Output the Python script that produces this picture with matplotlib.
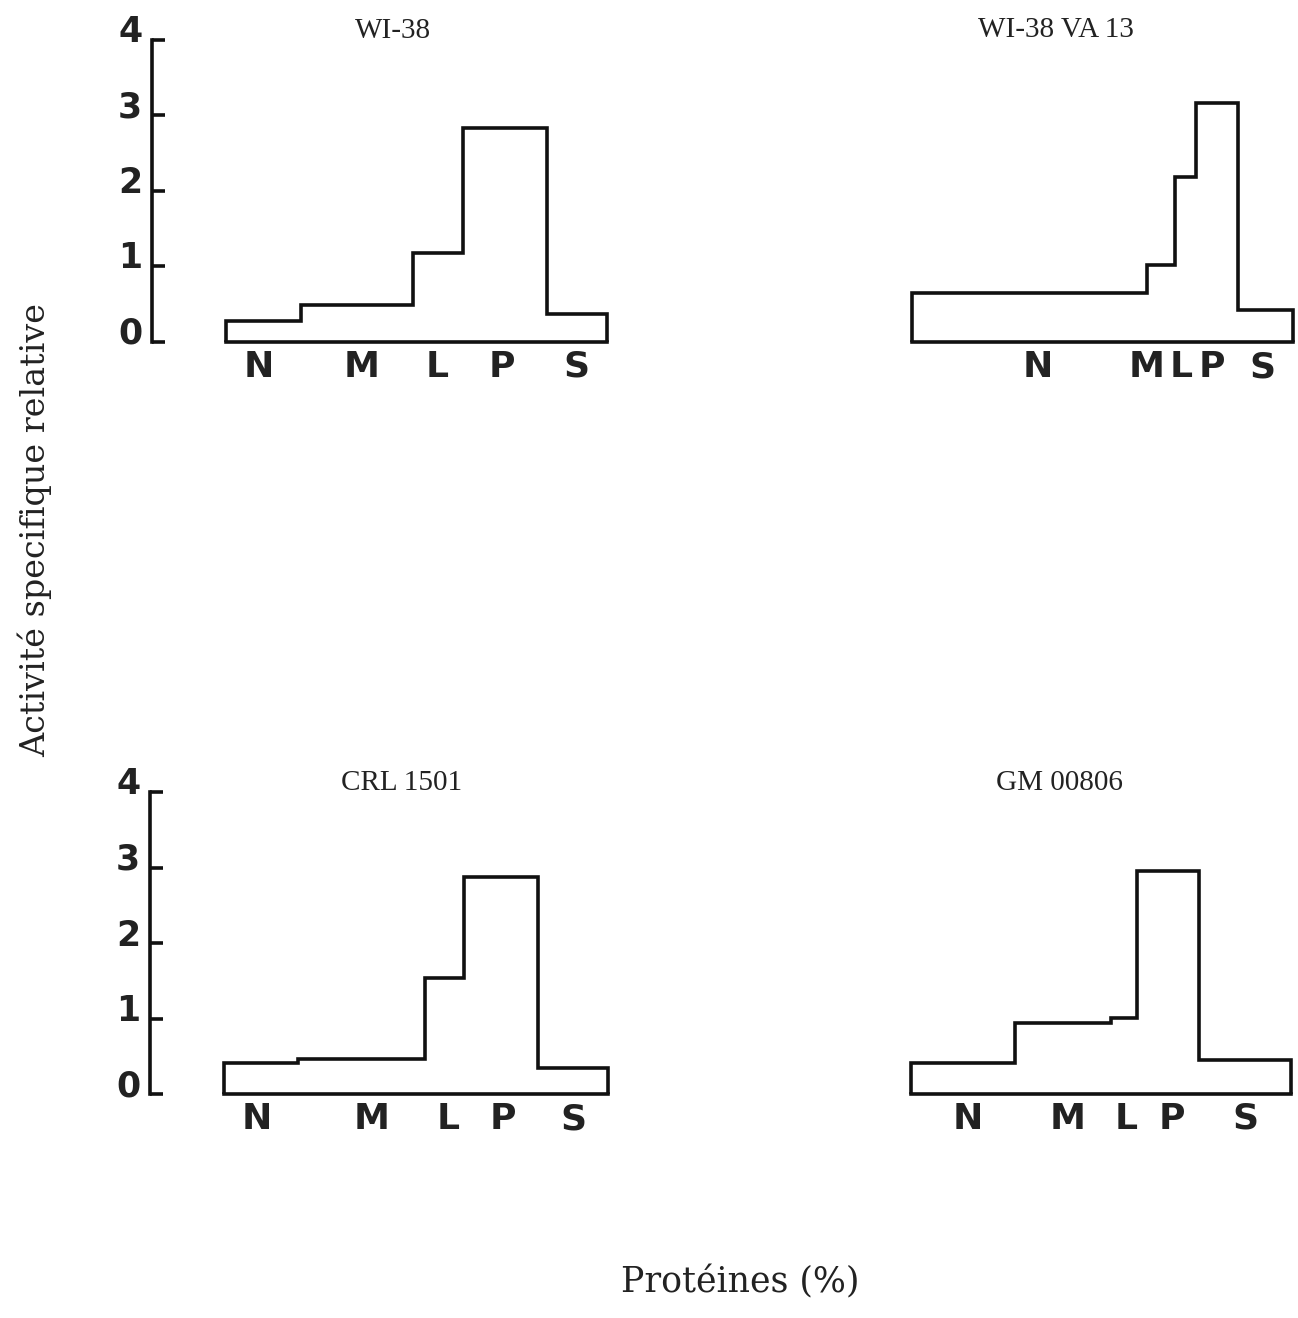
import numpy as np
import matplotlib
matplotlib.use('Agg')
import matplotlib.pyplot as plt
from matplotlib.transforms import ScaledTranslation

fractions = ['N', 'M', 'L', 'P', 'S']
titles = ['WI-38', 'WI-38 VA 13', 'CRL 1501', 'GM 00806']

# bar widths = % of proteins, bar heights = relative specific activity
wi38_prot = [19.7, 29.4, 13.1, 22.0, 15.8]
wi38_act = [0.27, 0.49, 1.17, 2.83, 0.36]
va13_prot = [61.7, 7.3, 5.5, 11.0, 14.5]
va13_act = [0.65, 1.02, 2.19, 3.17, 0.42]
crl_prot = [19.3, 33.1, 10.2, 19.3, 18.1]
crl_act = [0.41, 0.46, 1.54, 2.88, 0.35]
gm_prot = [27.4, 25.3, 6.8, 16.3, 24.2]
gm_act = [0.41, 0.93, 1.00, 2.95, 0.45]

# where the fraction letters sit under each histogram (% of proteins)
wi38_lab = [8.7, 35.7, 55.4, 72.4, 92.1]
va13_lab = [33.1, 61.6, 70.6, 78.6, 92.1]
crl_lab = [8.6, 38.5, 58.3, 72.7, 90.9]
gm_lab = [15.0, 41.3, 56.6, 68.7, 87.9]

W, H = 1298, 1318
UNIT = 75.5  # px per activity unit
LW = 2.6

fig = plt.figure(figsize=(W / 100, H / 100), dpi=100)
fig.patch.set_facecolor('white')


def panel(x0, w, base, prot, act, labpos, title, tx, ty, yaxis):
    left, right = x0 - 74, x0 + w + 14
    ax = fig.add_axes([left / W, (H - base) / H, (right - left) / W, 4 * UNIT / H])
    ax.set_xlim(-74 / w * 100, (w + 14) / w * 100)
    ax.set_ylim(0, 4)
    ax.patch.set_visible(False)

    edges = np.concatenate([[0], np.cumsum(prot)])
    ax.stairs(act, edges, baseline=0, fill=False, color='#111111', lw=LW,
              clip_on=False, joinstyle='miter')
    ax.hlines(0, edges[0], edges[-1], color='#111111', lw=LW, clip_on=False,
              capstyle='projecting')

    for s in ['top', 'right', 'bottom']:
        ax.spines[s].set_visible(False)
    if yaxis:
        ax.spines['left'].set_bounds(0, 4)
        ax.spines['left'].set_linewidth(LW)
        ax.spines['left'].set_color('#111111')
        ax.set_yticks(range(5))
        ax.set_yticklabels([str(i) for i in range(5)], fontsize=25,
                           fontweight='bold', family='DejaVu Sans', color='#222222')
        ax.tick_params(axis='y', direction='in', length=9, width=LW, pad=7,
                       color='#111111')
        off = ScaledTranslation(0, 0.11, fig.dpi_scale_trans)
        for lab in ax.get_yticklabels():
            lab.set_transform(lab.get_transform() + off)
    else:
        ax.spines['left'].set_visible(False)
        ax.tick_params(axis='y', left=False, labelleft=False)

    ax.set_xticks(labpos)
    ax.set_xticklabels(fractions, fontsize=26, fontweight='bold',
                       family='DejaVu Sans', color='#222222')
    ax.tick_params(axis='x', length=0, pad=6)

    fig.text(tx / W, 1 - ty / H, title, ha='center', va='center',
             fontsize=21, family='Liberation Serif', color='#222222')
    return ax


panel(226, 381, 341.5, wi38_prot, wi38_act, wi38_lab, titles[0], 393, 31, True)
panel(912, 381, 342, va13_prot, va13_act, va13_lab, titles[1], 1056, 30, False)
panel(224, 384, 1094, crl_prot, crl_act, crl_lab, titles[2], 402, 783, True)
panel(911, 380, 1093.5, gm_prot, gm_act, gm_lab, titles[3], 1059, 783, False)

fig.text(35 / W, 1 - 530 / H, 'Activité specifique relative', rotation=90,
         ha='center', va='center', fontsize=24, family='DejaVu Serif',
         color='#222222')
fig.text(740 / W, 1 - 1282 / H, 'Protéines (%)', ha='center', va='center',
         fontsize=25, family='DejaVu Serif', color='#222222')

fig.savefig('out.png', dpi=100)
